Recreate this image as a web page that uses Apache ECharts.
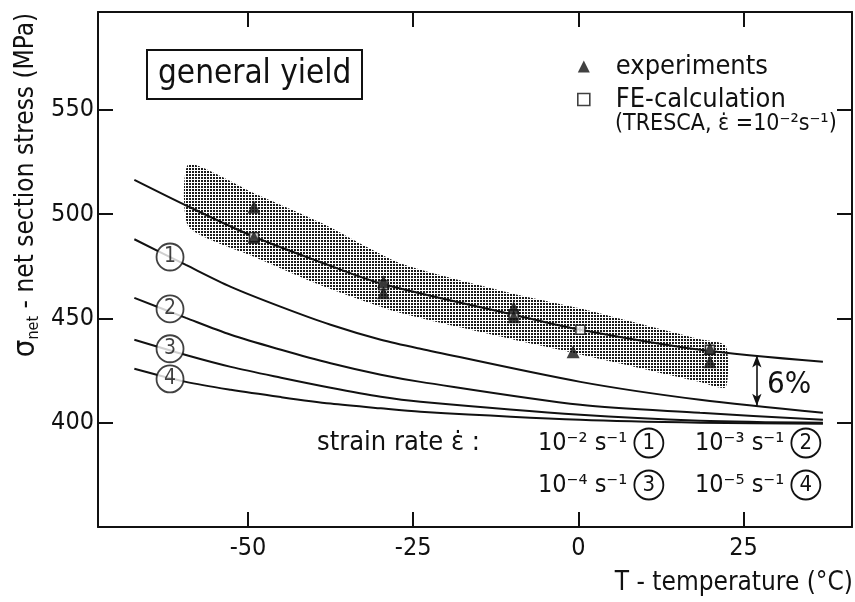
<!DOCTYPE html>
<html>
<head>
<meta charset="utf-8">
<title>general yield</title>
<script src="https://cdn.jsdelivr.net/npm/echarts@6/dist/echarts.min.js"></script>
<style>
  html, body { margin: 0; padding: 0; background: #fff; }
  #main { width: 855px; height: 602px; }
</style>
</head>
<body>
<div id="main"></div>
<script>
// ticks
var xTicks = [-50, -25, 0, 25];
var yTicks = [400, 450, 500, 550];

// TRESCA FE curve (strain rate 1e-2)
var tTresca = [-67.2, -58.9, -49.1, -39, -29.9, -9.8, 0.3, 18.4, 37];
var sTresca = [516.5, 503.5, 489.2, 477, 466.8, 451.8, 444.6, 435, 429.2];

// curves 1..4 (strain rates 1e-2 .. 1e-5)
var tRate = [-67.2, -59.4, -52.6, -45, -37.5, -29.9, -23.9, 0.3, 18.4, 37];
var sCurve1 = [488, 475.7, 465.2, 455.6, 447.0, 439.8, 435.5, 419.6, 411, 404.8];
var sCurve2 = [459.9, 450.3, 442.2, 435.0, 428.5, 423.0, 419.6, 408.6, 404.8, 401.4];
var sCurve3 = [439.8, 432.5, 426.8, 421.6, 416.8, 412.5, 410.1, 403.8, 401, 400];
var sCurve4 = [425.9, 419.6, 415.8, 412.3, 409.2, 406.9, 405.3, 401.4, 400, 399.5];

// scatter band of the experiments
var bandT = [-59, -49, -39, -27, -10, 0, 18.4, 22.3];
var bandHi = [524, 510, 496, 476.5, 462, 455, 440, 437];
var bandLo = [494, 479.5, 466, 452.7, 440, 433, 419.6, 417];

// experiments and FE points
var expT = [-49.1, -49.1, -29.5, -29.5, -9.8, -9.8, -0.8, 19.9, 19.9];
var expS = [503.5, 489, 467.6, 462.3, 455.1, 450.8, 434, 435.5, 429.2];
var feT = [-49.1, -29.5, -9.8, 0.3, 19.9];
var feS = [489, 466, 452, 444.6, 435];

// circled curve numbers
var labelT = -61.8;
var labelS = [479.5, 454.6, 435.5, 421];
var labelTxt = ['1', '2', '3', '4'];

// 6% arrow
var arrowT = 27;
var arrowS = [432.3, 408.1];

var FONT = "'DejaVu Sans Condensed', 'DejaVu Sans', sans-serif";
var INK = '#111';

function zip(a, b) {
    return a.map(function (v, i) { return [v, b[i]]; });
}

// dotted fill for the band
var dots = document.createElement('canvas');
dots.width = 3;
dots.height = 3;
var ctx = dots.getContext('2d');
ctx.fillStyle = '#1a1a1a';
ctx.fillRect(0, 0, 2, 2);

function curve(name, t, s) {
    return {
        name: name,
        type: 'line',
        data: zip(t, s),
        smooth: 0.3,
        symbol: 'none',
        lineStyle: { color: INK, width: 2 },
        z: 3
    };
}

var myChart = echarts.init(document.getElementById('main'));

var axisX = function (pos, labels) {
    return {
        type: 'value', position: pos, min: -72.7, max: 41.4,
        axisLine: { show: true, onZero: false, lineStyle: { color: INK, width: 2 } },
        axisTick: { show: true, inside: true, length: 15, customValues: xTicks, lineStyle: { color: INK, width: 2 } },
        axisLabel: { show: labels, customValues: xTicks, margin: 9, fontSize: 25, fontFamily: FONT, color: INK },
        splitLine: { show: false }
    };
};
var axisY = function (pos, labels) {
    return {
        type: 'value', position: pos, min: 350, max: 597,
        axisLine: { show: true, onZero: false, lineStyle: { color: INK, width: 2 } },
        axisTick: { show: true, inside: true, length: 15, customValues: yTicks, lineStyle: { color: INK, width: 2 } },
        axisLabel: { show: labels, customValues: yTicks, margin: 4, fontSize: 25, fontFamily: FONT, color: INK },
        splitLine: { show: false }
    };
};

var noteRich = {
    c: {
        borderColor: INK, borderWidth: 1.8, borderRadius: 15,
        width: 29, height: 29, lineHeight: 29, align: 'center',
        fontSize: 22, fontFamily: FONT, color: INK
    }
};

function note(x, y, text, size, align) {
    return {
        type: 'text', x: x, y: y,
        style: {
            text: text, fill: INK, fontSize: size || 24, fontFamily: FONT,
            align: align || 'left', verticalAlign: 'middle', rich: noteRich
        }
    };
}

var option = {
    animation: false,
    backgroundColor: '#fff',
    grid: { left: 98, right: 3, top: 12, bottom: 75 },
    title: {
        text: 'general yield',
        left: 147, top: 50,
        borderColor: INK, borderWidth: 2,
        padding: [8, 11, 8, 11],
        textStyle: { fontSize: 33, fontWeight: 'normal', fontFamily: FONT, color: INK }
    },
    legend: {
        left: 577, top: 53, orient: 'vertical', padding: 0,
        itemWidth: 12, itemHeight: 12, itemGap: 6,
        textStyle: { fontSize: 27, fontFamily: FONT, color: INK, padding: [0, 0, 0, 21] },
        data: [
            { name: 'experiments', icon: 'triangle' },
            { name: 'FE-calculation', icon: 'rect', itemStyle: { color: '#fff', borderColor: INK, borderWidth: 1.6 } }
        ]
    },
    xAxis: [axisX('bottom', true), axisX('top', false)],
    yAxis: [axisY('left', true), axisY('right', false)],
    graphic: [
        {
            type: 'text', x: 26, y: 185, rotation: Math.PI / 2,
            style: {
                text: '{s|σ}{n|net} - net section stress (MPa)',
                fill: INK, fontSize: 26, fontFamily: FONT, align: 'center', verticalAlign: 'middle',
                rich: {
                    s: { fontSize: 31, fontFamily: FONT, color: INK },
                    n: { fontSize: 16, fontFamily: FONT, color: INK, verticalAlign: 'bottom' }
                }
            }
        },
        note(615, 124, '(TRESCA, ε̇ =10⁻²s⁻¹)', 23),
        note(317, 443, 'strain rate ε̇ :', 27),
        note(538, 443, '10⁻² s⁻¹ {c|1}', 25),
        note(695, 443, '10⁻³ s⁻¹ {c|2}', 25),
        note(538, 485, '10⁻⁴ s⁻¹ {c|3}', 25),
        note(695, 485, '10⁻⁵ s⁻¹ {c|4}', 25),
        note(767, 385, '6%', 31),
        note(853, 583, 'T - temperature (°C)', 26, 'right')
    ],
    series: [
        {
            name: 'band',
            type: 'custom',
            data: [[bandT[0], bandLo[0]]],
            z: 1,
            renderItem: function (params, api) {
                var pts = [];
                for (var i = 0; i < bandT.length; i++) pts.push(api.coord([bandT[i], bandHi[i]]));
                for (var j = bandT.length - 1; j >= 0; j--) pts.push(api.coord([bandT[j], bandLo[j]]));
                return {
                    type: 'polygon',
                    shape: { points: pts, smooth: 0.2 },
                    style: { fill: { image: dots, repeat: 'repeat' }, stroke: null }
                };
            }
        },
        curve('TRESCA', tTresca, sTresca),
        curve('1', tRate, sCurve1),
        curve('2', tRate, sCurve2),
        curve('3', tRate, sCurve3),
        curve('4', tRate, sCurve4),
        {
            name: 'FE-calculation',
            type: 'scatter',
            data: zip(feT, feS),
            symbol: 'rect',
            symbolSize: 9,
            itemStyle: { color: '#fff', borderColor: INK, borderWidth: 1.6 },
            z: 4
        },
        {
            name: 'experiments',
            type: 'scatter',
            data: zip(expT, expS),
            symbol: 'triangle',
            symbolSize: 13,
            itemStyle: { color: INK },
            z: 5
        },
        {
            name: 'labels',
            type: 'scatter',
            data: labelS.map(function (s, i) { return [labelT, s, labelTxt[i]]; }),
            symbol: 'circle',
            symbolSize: 27,
            itemStyle: { color: '#fff', borderColor: INK, borderWidth: 1.8 },
            label: {
                show: true, position: 'inside', color: INK, fontSize: 21, fontFamily: FONT,
                formatter: function (p) { return p.value[2]; }
            },
            z: 6
        },
        {
            name: 'arrow',
            type: 'line',
            data: [],
            markLine: {
                silent: true,
                symbol: ['arrow', 'arrow'],
                symbolSize: [7, 12],
                label: { show: false },
                lineStyle: { color: INK, width: 1.6, type: 'solid' },
                data: [[{ coord: [arrowT, arrowS[0]] }, { coord: [arrowT, arrowS[1]] }]]
            }
        }
    ]
};

myChart.setOption(option);
</script>
</body>
</html>
